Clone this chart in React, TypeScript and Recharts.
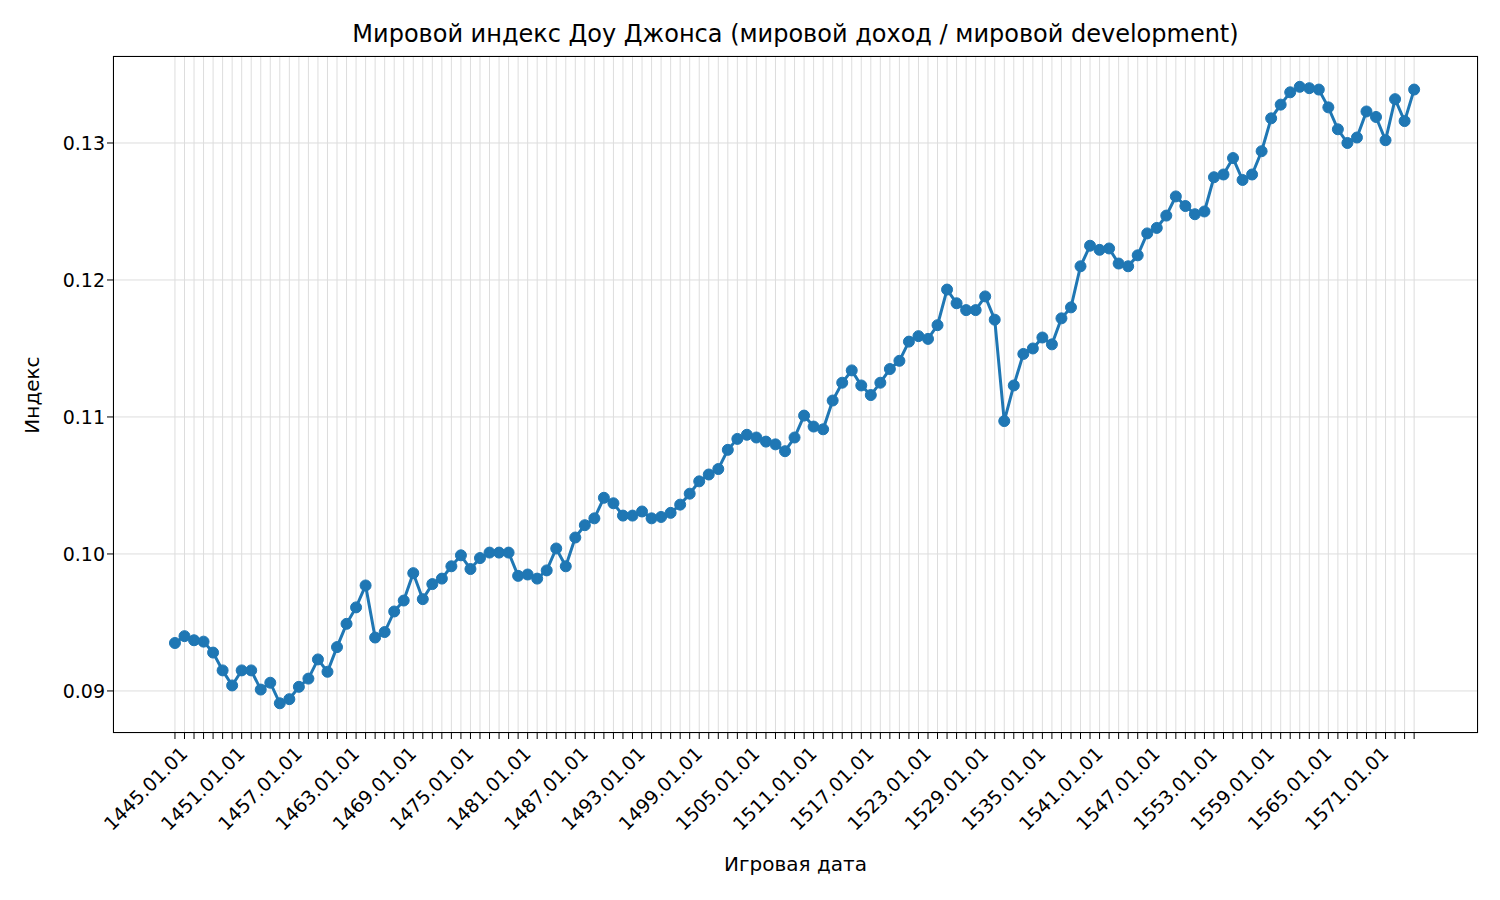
import React from "react";
import { LineChart, Line, XAxis, YAxis, CartesianGrid } from "recharts";

const startYear = 1445;
const indexValues = [
  0.0935, 0.094, 0.0937, 0.0936, 0.0928, 0.0915, 0.0904, 0.0915, 0.0915, 0.0901,
  0.0906, 0.0891, 0.0894, 0.0903, 0.0909, 0.0923, 0.0914, 0.0932, 0.0949, 0.0961,
  0.0977, 0.0939, 0.0943, 0.0958, 0.0966, 0.0986, 0.0967, 0.0978, 0.0982, 0.0991,
  0.0999, 0.0989, 0.0997, 0.1001, 0.1001, 0.1001, 0.0984, 0.0985, 0.0982, 0.0988,
  0.1004, 0.0991, 0.1012, 0.1021, 0.1026, 0.1041, 0.1037, 0.1028, 0.1028, 0.1031,
  0.1026, 0.1027, 0.103, 0.1036, 0.1044, 0.1053, 0.1058, 0.1062, 0.1076, 0.1084,
  0.1087, 0.1085, 0.1082, 0.108, 0.1075, 0.1085, 0.1101, 0.1093, 0.1091, 0.1112,
  0.1125, 0.1134, 0.1123, 0.1116, 0.1125, 0.1135, 0.1141, 0.1155, 0.1159, 0.1157,
  0.1167, 0.1193, 0.1183, 0.1178, 0.1178, 0.1188, 0.1171, 0.1097, 0.1123, 0.1146,
  0.115, 0.1158, 0.1153, 0.1172, 0.118, 0.121, 0.1225, 0.1222, 0.1223, 0.1212,
  0.121, 0.1218, 0.1234, 0.1238, 0.1247, 0.1261, 0.1254, 0.1248, 0.125, 0.1275,
  0.1277, 0.1289, 0.1273, 0.1277, 0.1294, 0.1318, 0.1328, 0.1337, 0.1341, 0.134,
  0.1339, 0.1326, 0.131, 0.13, 0.1304, 0.1323, 0.1319, 0.1302, 0.1332, 0.1316,
  0.1339,
];
const yTicks = [0.09, 0.1, 0.11, 0.12, 0.13];

const data = indexValues.map((v, i) => ({ year: startYear + i, value: v }));
const yearTicks = data.map((d) => d.year);

const font = "DejaVu Sans, sans-serif";

const XTick = (props: any) => {
  const { x, y, payload } = props;
  if ((payload.value - startYear) % 6 !== 0) return null;
  return (
    <text
      x={x + 4}
      y={y + 4}
      textAnchor="end"
      transform={`rotate(-45 ${x + 4} ${y + 4})`}
      fontSize={19}
      fontFamily={font}
      fill="#000"
      dy={14}
    >
      {`${payload.value}.01.01`}
    </text>
  );
};

export default function App() {
  return (
    <div style={{ position: "absolute", left: 0, top: 0, width: 1500, height: 900, background: "#fff", fontFamily: font }}>
      <div style={{ position: "absolute", left: 113, top: 20, width: 1365, textAlign: "center", fontSize: 24 }}>
        Мировой индекс Доу Джонса (мировой доход / мировой development)
      </div>
      <div style={{ position: "absolute", left: 113, top: 852, width: 1365, textAlign: "center", fontSize: 20 }}>
        Игровая дата
      </div>
      <div style={{ position: "absolute", left: 32, top: 395, width: 0, height: 0 }}>
        <div style={{ position: "absolute", transform: "translate(-50%, -50%) rotate(-90deg)", fontSize: 20, whiteSpace: "nowrap" }}>
          Индекс
        </div>
      </div>
      <div style={{ position: "absolute", left: 113, top: 56, width: 1365, height: 677, border: "1.3px solid #000", boxSizing: "border-box", pointerEvents: "none", zIndex: 2 }} />
      <LineChart width={1500} height={900} data={data} margin={{ top: 56, right: 22, bottom: 47, left: 43 }}>
        <CartesianGrid stroke="#ddd" strokeWidth={1} />
        <XAxis
          dataKey="year"
          type="number"
          domain={[1438.5, 1581.7]}
          ticks={yearTicks}
          interval={0}
          tick={<XTick />}
          tickSize={6}
          height={120}
          axisLine={false}
          tickLine={{ stroke: "#000" }}
        />
        <YAxis
          type="number"
          domain={[0.08693, 0.13635]}
          ticks={yTicks}
          tickFormatter={(v: number) => v.toFixed(2)}
          width={70}
          axisLine={false}
          tickLine={{ stroke: "#000" }}
          tickSize={6}
          tick={{ fontSize: 19, fontFamily: font, fill: "#000" }}
        />
        <Line
          dataKey="value"
          stroke="#1f77b4"
          strokeWidth={3}
          dot={{ r: 5.5, fill: "#1f77b4", stroke: "#1f77b4", strokeWidth: 1 }}
          isAnimationActive={false}
        />
      </LineChart>
    </div>
  );
}
